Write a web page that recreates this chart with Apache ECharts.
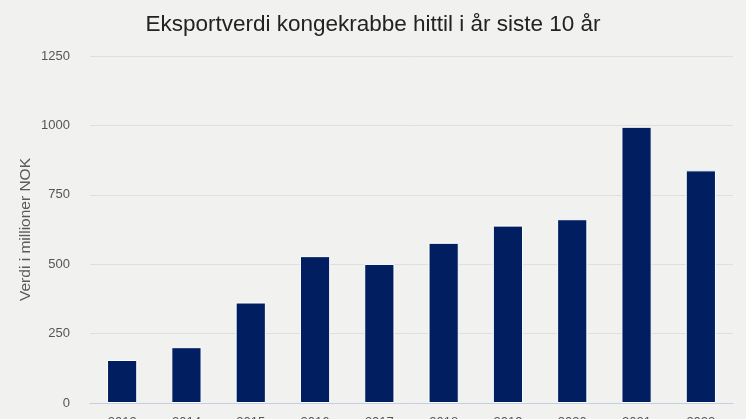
<!DOCTYPE html>
<html>
<head>
<meta charset="utf-8">
<script src="https://cdn.jsdelivr.net/npm/echarts@6/dist/echarts.min.js"></script>
<style>
html,body{margin:0;padding:0;background:#f1f2f0;}
#chart{width:746px;height:419px;}
</style>
</head>
<body>
<div id="chart"></div>
<script>
const titleText = "Eksportverdi kongekrabbe hittil i år siste 10 år";
const yAxisName = "Verdi i millioner NOK";
const years = ["2013","2014","2015","2016","2017","2018","2019","2020","2021","2022"];
const values = [155, 201, 362, 529, 501, 577, 639, 662, 995, 838];

const chart = echarts.init(document.getElementById('chart'), null, {renderer:'canvas'});
chart.setOption({
  backgroundColor: '#f1f2f0',
  animation: false,
  textStyle: { fontFamily: 'Liberation Sans, Arial, sans-serif' },
  title: {
    text: titleText,
    left: 'center',
    top: 8,
    textStyle: { fontSize: 22.5, fontWeight: 'normal', color: '#222222', fontFamily: 'Liberation Sans, Arial, sans-serif' }
  },
  grid: { left: 90, right: 13, top: 56, bottom: 16, containLabel: false, outerBoundsMode: 'none' },
  xAxis: {
    type: 'category',
    data: years,
    axisTick: { show: false },
    axisLine: { show: true, lineStyle: { color: '#c5cfe0', width: 1 } },
    axisLabel: { color: '#555555', fontSize: 13, margin: 13 }
  },
  yAxis: {
    type: 'value',
    min: 0, max: 1250, interval: 250,
    name: yAxisName,
    nameLocation: 'middle',
    nameGap: 56,
    nameMoveOverlap: false,
    nameTextStyle: { color: '#5a5a5a', fontSize: 15.5 },
    axisLine: { show: false },
    axisTick: { show: false },
    axisLabel: { color: '#555555', fontSize: 13, margin: 20, formatter: function (v) { return String(v); } },
    splitLine: { lineStyle: { color: '#dfe0de', width: 1 } }
  },
  series: [{
    type: 'bar',
    data: values,
    barWidth: '47%',
    itemStyle: { color: '#001e60', borderColor: '#ffffff', borderWidth: 1 }
  }]
});
</script>
</body>
</html>
